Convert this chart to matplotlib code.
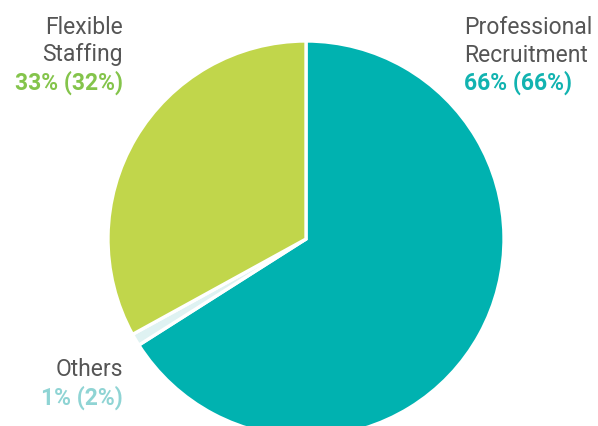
import matplotlib.pyplot as plt

# Дані для діаграми
segments = ["Professional Recruitment", "Others", "Flexible Staffing"]
shares = [66, 1, 33]
colors = ["#00b2b0", "#dff2f2", "#c1d64b"]

label_lines = ["Professional\nRecruitment", "Others", "Flexible\nStaffing"]
pct_labels = ["66% (66%)", "1% (2%)", "33% (32%)"]
pct_colors = ["#12b3b0", "#8fd4d4", "#84c44b"]

plt.rcParams['font.family'] = ['Roboto', 'DejaVu Sans']

W, H = 598, 427
fig = plt.figure(figsize=(W / 100, H / 100), dpi=100)

# Пиріг трохи виходить за нижній край картинки
cx, cy, r = 306, 240, 198
ax = fig.add_axes([(cx - r) / W, (H - cy - r) / H, 2 * r / W, 2 * r / H])
ax.pie(shares, colors=colors, startangle=90, counterclock=False, radius=1,
       wedgeprops=dict(edgecolor="white", linewidth=2.4))
ax.set_xlim(-1, 1)
ax.set_ylim(-1, 1)
ax.set_aspect("equal")
ax.axis("off")

# Підписи: (x, y верхнього рядка у пікселях, вирівнювання)
label_pos = [(464, 27, "left"), (123, 370, "right"), (123, 27, "right")]
line_h = 28
for text, pct, pc, (x, y, ha) in zip(label_lines, pct_labels, pct_colors, label_pos):
    lines = text.split("\n")
    for i, line in enumerate(lines):
        fig.text(x / W, 1 - (y + i * line_h) / H, line, ha=ha, va="center",
                 fontsize=16.5, color="#555555")
    fig.text(x / W, 1 - (y + len(lines) * line_h) / H, pct, ha=ha, va="center",
             fontsize=16.5, color=pc, fontweight="bold")

fig.savefig("out.png", dpi=100)
